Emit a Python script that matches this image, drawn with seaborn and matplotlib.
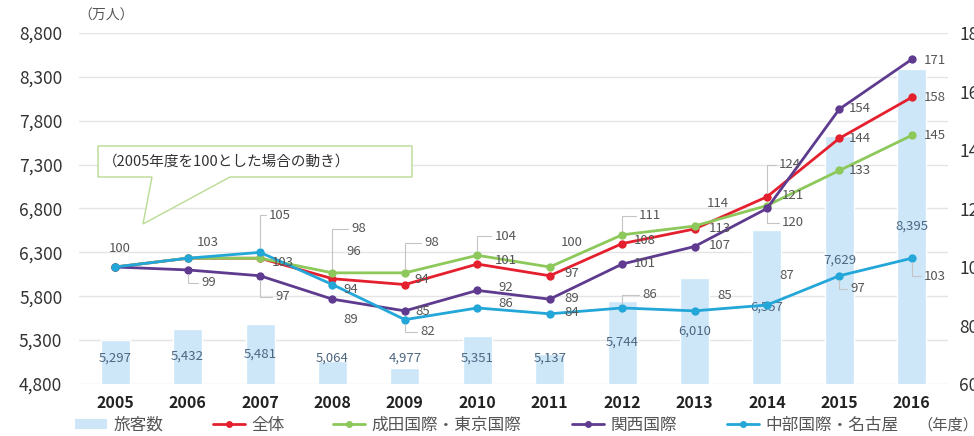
import numpy as np
import pandas as pd
import matplotlib
matplotlib.use('Agg')
import matplotlib.pyplot as plt
import seaborn as sns
from matplotlib.patches import Polygon, Rectangle
from matplotlib.lines import Line2D

# ---------------- data ----------------
years = ['2005', '2006', '2007', '2008', '2009', '2010',
         '2011', '2012', '2013', '2014', '2015', '2016']
passengers = [5297, 5432, 5481, 5064, 4977, 5351, 5137, 5744, 6010, 6557, 7629, 8395]
idx_total = [100, 103, 103, 96, 94, 101, 97, 108, 113, 124, 144, 158]
idx_narita = [100, 103, 103, 98, 98, 104, 100, 111, 114, 121, 133, 145]
idx_kansai = [100, 99, 97, 89, 85, 92, 89, 101, 107, 120, 154, 171]
idx_chubu = [100, 103, 105, 94, 82, 86, 84, 86, 85, 87, 97, 103]

series_names = ['全体', '成田国際・東京国際', '関西国際', '中部国際・名古屋']
bar_name = '旅客数'
left_ticks = [4800, 5300, 5800, 6300, 6800, 7300, 7800, 8300, 8800]
right_ticks = [60, 80, 100, 120, 140, 160, 180]

# ---------------- styling ----------------
W, H = 974, 436
DPI = 100
sns.set_theme(style='white')
plt.rcParams['font.family'] = ['Noto Sans CJK JP', 'DejaVu Sans']

colors = {'全体': '#e5202e', '成田国際・東京国際': '#8dc85a',
          '関西国際': '#5e3b8f', '中部国際・名古屋': '#23a6d8'}
bar_color = '#cde7f9'

fig = plt.figure(figsize=(W / DPI, H / DPI), dpi=DPI)
ax_left, ax_right = 79 / W, 948 / W
ax_bot, ax_top = 1 - 384 / H, 1 - 33 / H
ax = fig.add_axes([ax_left, ax_bot, ax_right - ax_left, ax_top - ax_bot])

# bars
df_bar = pd.DataFrame({'year': years, 'value': passengers})
sns.barplot(data=df_bar, x='year', y='value', color=bar_color, width=0.4,
            saturation=1, ax=ax, zorder=2)
ax.set_ylim(left_ticks[0], left_ticks[-1])
ax.set_xlim(-0.5, len(years) - 0.5)
ax.set_yticks(left_ticks)
ax.set_yticklabels([f'{v:,}' for v in left_ticks], fontsize=12.5, color='#333333')
ax.tick_params(axis='y', length=0, pad=12)
ax.tick_params(axis='x', length=0, pad=8)
for lab in ax.get_xticklabels():
    lab.set_fontweight('bold')
    lab.set_fontsize(11.5)
    lab.set_color('#222222')
ax.set_xlabel('')
ax.set_ylabel('')
ax.yaxis.grid(True, color='#e4e4e4', linewidth=1.0, zorder=0)
ax.set_axisbelow(True)
for s in ax.spines.values():
    s.set_visible(False)

# bar labels
for i, v in enumerate(passengers):
    ly = max(left_ticks[0] + (v - left_ticks[0]) * 0.5, 5090)
    ax.text(i, ly, f'{v:,}', ha='center', va='center', fontsize=9.5,
            color='#4d6680', zorder=3)

# lines on twin axis
ax2 = ax.twinx()
xs = np.arange(len(years))
all_series = [idx_total, idx_narita, idx_kansai, idx_chubu]
df_lines = pd.DataFrame({
    'x': np.tile(xs, 4),
    'value': np.concatenate(all_series),
    'series': np.repeat(series_names, len(years)),
})
sns.lineplot(data=df_lines, x='x', y='value', hue='series', palette=colors,
             hue_order=series_names, marker='o', markersize=6,
             markeredgewidth=0, linewidth=2.0, ax=ax2, legend=False,
             sort=False, estimator=None)
ax2.set_ylim(right_ticks[0], right_ticks[-1])
ax2.set_yticks(right_ticks)
ax2.set_yticklabels([str(v) for v in right_ticks], fontsize=12.5, color='#333333')
ax2.tick_params(axis='y', length=0, pad=8)
ax2.set_xlim(-0.5, len(years) - 0.5)
ax2.set_xlabel('')
ax2.set_ylabel('')
for s in ax2.spines.values():
    s.set_visible(False)

# label offsets (pixels), None = no label, third item = leader line
offs = {
    '全体': [(5, 19, 0), None, (23, -4, 0), (21, 27, 0), (17, 5, 0), (28, 4, 0),
           (22, 2, 0), (23, 3, 0), (25, 0, 0), (23, 32, 1), (20, 0, 0), (23, 0, 0)],
    '成田国際・東京国際': [None, None, None, (26, 44, 1), (27, 30, 1), (28, 19, 1),
                  (22, 25, 0), (28, 19, 1), (23, 23, 0), (26, 10, 0), (20, 0, 0), (23, 0, 0)],
    '関西国際': [None, (21, -13, 1), (23, -21, 1), (18, -20, 0), (18, -1, 0), (28, 3, 0),
             (22, 1, 0), (23, 1, 0), (25, 1, 0), (26, -14, 1), (20, 1, 0), (23, -1, 0)],
    '中部国際・名古屋': [None, (20, 16, 0), (20, 37, 1), (18, -5, 0), (23, -12, 1), (28, 4, 0),
                 (22, 1, 0), (28, 13, 1), (30, 15, 0), (20, 30, 0), (18, -13, 1), (23, -18, 1)],
}
for name, vals in zip(series_names, all_series):
    for i, v in enumerate(vals):
        o = offs[name][i]
        if o is None:
            continue
        dx, dy, lead = o
        kw = {}
        if lead:
            kw['arrowprops'] = dict(arrowstyle='-', color='#c4c4c4', lw=0.8,
                                    shrinkA=0, shrinkB=3,
                                    connectionstyle='angle,angleA=0,angleB=90,rad=0')
        ax2.annotate(str(v), xy=(i, v), xytext=(dx, dy), textcoords='offset pixels',
                     ha='center', va='center', fontsize=9.5, color='#555555',
                     zorder=5, **kw)


def fx(px):
    return px / W


def fy(py):
    return 1 - py / H


# unit label
fig.text(fx(78), fy(16), '（万人）', fontsize=10, color='#555555',
         ha='left', va='center')

# callout box
pts = [(98, 146), (412, 146), (412, 177), (230, 177), (143, 224), (152, 177), (98, 177)]
poly = Polygon([(fx(x), fy(y)) for x, y in pts], closed=True, facecolor='white',
               edgecolor='#b9db93', linewidth=1.0, transform=fig.transFigure,
               zorder=10)
fig.add_artist(poly)
fig.text(fx(103), fy(162), '（2005年度を100とした場合の動き）', fontsize=10.5,
         color='#333333', ha='left', va='center', zorder=11)

# legend (one entry per position)
handles = [Rectangle((0, 0), 1, 1, facecolor=bar_color, edgecolor='none')]
for name in series_names:
    handles.append(Line2D([0], [0], color=colors[name], lw=2, marker='o',
                          markersize=5, markeredgewidth=0))
labels = [bar_name] + series_names
leg_x = [75, 213, 333, 572, 727]
for h, lab, x0 in zip(handles, labels, leg_x):
    leg = fig.legend([h], [lab], loc='center left',
                     bbox_to_anchor=(fx(x0), fy(425)), frameon=False,
                     fontsize=12, handlelength=1.9, handleheight=0.55,
                     handletextpad=0.4, borderaxespad=0, borderpad=0)
    for t in leg.get_texts():
        t.set_color('#555555')
fig.text(fx(917), fy(425), '（年度）', fontsize=11, color='#555555',
         ha='left', va='center')

fig.savefig('out.png', dpi=DPI)
